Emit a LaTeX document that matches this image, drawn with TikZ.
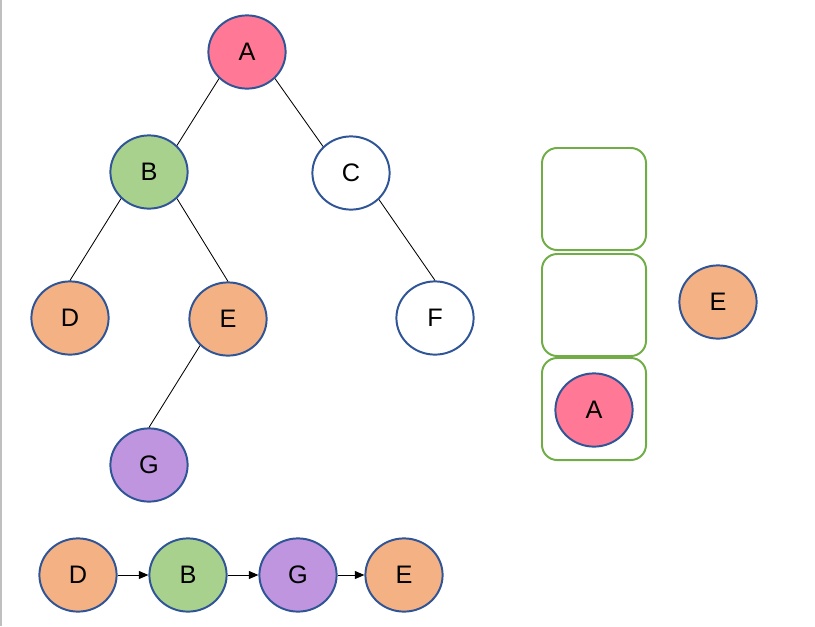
\documentclass[tikz,border=0pt]{standalone}
\usepackage{fontspec}
\setmainfont{Liberation Sans}
\usepackage{tikz}
\usetikzlibrary{arrows.meta,shapes.geometric}
\definecolor{rim}{HTML}{2F5597}
\definecolor{pink}{HTML}{FF7896}
\definecolor{leaf}{HTML}{A9D18E}
\definecolor{peach}{HTML}{F4B183}
\definecolor{lilac}{HTML}{BF95DF}
\definecolor{slot}{HTML}{70AD47}
\definecolor{frame}{HTML}{BFBFBF}
\tikzset{
  vert/.style={ellipse,draw=rim,line width=1.4pt,minimum width=1.93cm,minimum height=1.83cm,inner sep=0pt,font=\fontsize{18}{21}\selectfont},
  pinkv/.style={vert,fill=pink},
  greenv/.style={vert,fill=leaf},
  peachv/.style={vert,fill=peach},
  lilacv/.style={vert,fill=lilac},
  whitev/.style={vert,fill=white},
  cell/.style={draw=slot,line width=1.4pt,rounded corners=0.38cm,minimum width=2.6cm,minimum height=2.55cm,inner sep=0pt},
  edge/.style={draw=black,line width=0.6pt},
  next/.style={-{Triangle[length=2.4mm,width=2mm]},draw=black,line width=0.7pt}}

\begin{document}
\begin{tikzpicture}[x=0.025cm,y=-0.025cm]
  \useasboundingbox (0,0) rectangle (815,626);
  \draw[frame,line width=1.2pt] (1,0) -- (1,626);
  % tree
  \node[pinkv] (A) at (247,52) {A};
  \node[greenv] (B) at (149,172) {B};
  \node[whitev] (C) at (351,173) {C};
  \node[peachv] (D) at (70,318) {D};
  \node[peachv] (E) at (228,319) {E};
  \node[whitev] (F) at (435,318) {F};
  \node[lilacv] (G) at (149,465) {G};
  \draw[edge] (A.south west) -- (B.north east);
  \draw[edge] (A.south east) -- (C.north west);
  \draw[edge] (B.south west) -- (D.north);
  \draw[edge] (B.south east) -- (E.north);
  \draw[edge] (C.south east) -- (F.north);
  \draw[edge] (E.south west) -- (G.north);
  % stack
  \node[cell] (s3) at (594,199) {};
  \node[cell] (s2) at (594,305) {};
  \node[cell] (s1) at (594,409) {};
  \node[pinkv] (sA) at (594,410) {A};
  \node[peachv] (cur) at (718,302) {E};
  % visit order
  \node[peachv] (o1) at (78,575) {D};
  \node[greenv] (o2) at (188,575) {B};
  \node[lilacv] (o3) at (298,575) {G};
  \node[peachv] (o4) at (404,575) {E};
  \draw[next] (o1) -- (o2);
  \draw[next] (o2) -- (o3);
  \draw[next] (o3) -- (o4);
\end{tikzpicture}
\end{document}
